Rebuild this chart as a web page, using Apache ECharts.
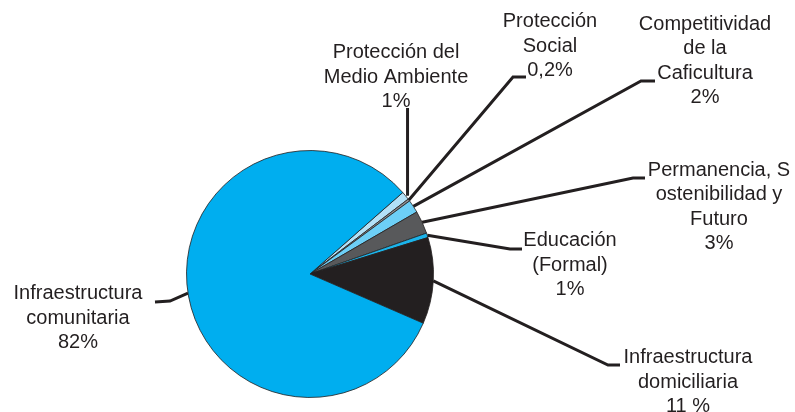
<!DOCTYPE html>
<html>
<head>
<meta charset="utf-8">
<script src="https://cdn.jsdelivr.net/npm/echarts@6/dist/echarts.min.js"></script>
<style>html,body{margin:0;padding:0;background:#fff}#c{width:795px;height:412px}</style>
</head>
<body>
<div id="c"></div>
<script>
// Categories in clockwise order starting at the top edge of the largest slice
const categories = [
  "Protección del\nMedio Ambiente",
  "Protección\nSocial",
  "Competitividad\nde la\nCaficultura",
  "Permanencia, S\nostenibilidad y\nFuturo",
  "Educación\n(Formal)",
  "Infraestructura\ndomiciliaria",
  "Infraestructura\ncomunitaria"
];
const values = [1.1, 0.3, 1.7, 3.0, 0.6, 11.3, 82.0];
const percentLabels = ["1%", "0,2%", "2%", "3%", "1%", "11 %", "82%"];

const colors = ["#B3E1F7", "#8C8E90", "#6DCFF6", "#58595B", "#1BB4EB", "#231F20", "#00AEEF"];

// label layout: text block centre and leader-line elbow/end points
const labelPlace = [
  {x: 396, y: 77,  elbow: [409, 108], end: [409, 108]},
  {x: 550, y: 46,  elbow: [513, 77],  end: [526, 77]},
  {x: 705, y: 61,  elbow: [641, 81],  end: [655, 81]},
  {x: 719, y: 207, elbow: [633, 178], end: [645, 178]},
  {x: 570, y: 265, elbow: [510, 249], end: [522, 249]},
  {x: 688, y: 382, elbow: [608, 365], end: [620, 365]},
  {x: 78,  y: 318, elbow: [170, 301], end: [155, 302]}
];

const chart = echarts.init(document.getElementById('c'), null, {renderer: 'canvas'});
chart.setOption({
  animation: false,
  series: [{
    type: 'pie',
    center: [310, 274],
    radius: 123.5,
    startAngle: 41.3,
    clockwise: true,
    avoidLabelOverlap: false,
    silent: true,
    itemStyle: {borderColor: '#231F20', borderWidth: 0.8},
    label: {
      show: true,
      position: 'outside',
      formatter: p => p.name + '\n' + percentLabels[p.dataIndex],
      fontFamily: 'Liberation Sans, Arial, sans-serif',
      fontSize: 20,
      lineHeight: 24.5,
      color: '#231F20',
      align: 'center'
    },
    labelLine: {
      show: true,
      lineStyle: {color: '#231F20', width: 3}
    },
    labelLayout: function (params) {
      const lp = labelPlace[params.dataIndex];
      let start = params.labelLinePoints ? params.labelLinePoints[0] : lp.elbow;
      let elbow = lp.elbow, end = lp.end;
      if (params.dataIndex === 0) {
        // vertical leader line
        elbow = [start[0] + 2, lp.elbow[1]];
        end = elbow;
        start = [start[0] + 2, start[1]];
      }
      return {
        x: lp.x,
        y: lp.y,
        align: 'center',
        verticalAlign: 'middle',
        labelLinePoints: [start, elbow, end]
      };
    },
    data: categories.map((c, i) => ({
      name: c,
      value: values[i],
      itemStyle: {color: colors[i]}
    }))
  }]
});
</script>
</body>
</html>
